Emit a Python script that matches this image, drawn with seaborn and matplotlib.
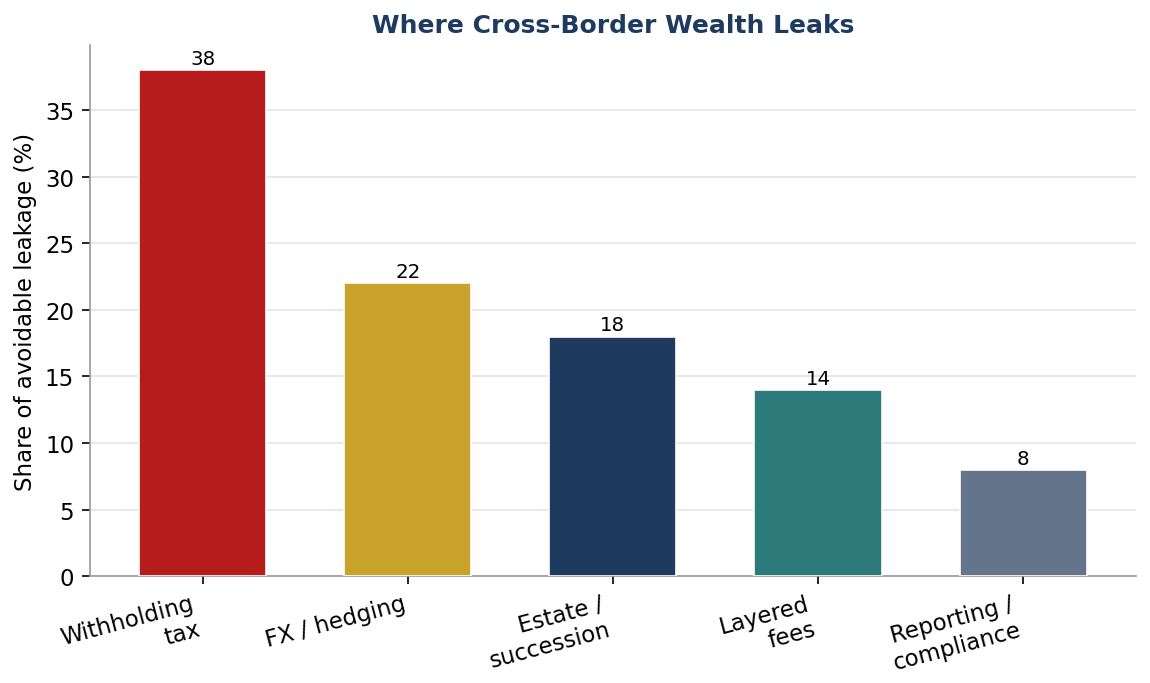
import matplotlib
matplotlib.use("Agg")
import matplotlib.pyplot as plt
import pandas as pd
import seaborn as sns

categories = ["Withholding\ntax", "FX / hedging", "Estate /\nsuccession", "Layered\nfees", "Reporting /\ncompliance"]
shares = [38, 22, 18, 14, 8]
colors = ["#B71C1C", "#C9A22A", "#1F3A5F", "#2D7A7B", "#64748B"]

df = pd.DataFrame({"category": categories, "share": shares})

sns.set_style("white")
plt.rcParams["font.family"] = ["DejaVu Sans"]
plt.rcParams["text.color"] = "black"
plt.rcParams["axes.labelcolor"] = "black"
plt.rcParams["xtick.color"] = "black"
plt.rcParams["ytick.color"] = "black"

fig, ax = plt.subplots(figsize=(7.673, 4.56), dpi=150)
sns.barplot(data=df, x="category", y="share", hue="category", palette=colors,
            saturation=1, width=0.62, edgecolor="white", linewidth=0.8,
            legend=False, ax=ax, zorder=3)

for c in ax.containers:
    ax.bar_label(c, fmt="%d", fontsize=9.5, padding=1)

ax.set_ylim(0, 38 * 1.05)
ax.set_xlim(-0.55, 4.55)
ax.yaxis.grid(True, color="#E5E7EB", linewidth=0.9, zorder=0)
ax.set_axisbelow(True)
ax.set_title("Where Cross-Border Wealth Leaks", fontsize=12, fontweight="bold", color="#1F3A5F")
ax.set_ylabel("Share of avoidable leakage (%)", fontsize=11)
ax.set_xlabel("")
plt.setp(ax.get_xticklabels(), rotation=15, ha="right", fontsize=11)
ax.tick_params(axis="y", labelsize=11, length=4, left=True)
ax.tick_params(axis="x", length=4, bottom=True)
for s in ["top", "right"]:
    ax.spines[s].set_visible(False)
for s in ["left", "bottom"]:
    ax.spines[s].set_color("#999999")

plt.subplots_adjust(left=0.078, right=0.987, top=0.933, bottom=0.156)
fig.savefig("out.png", dpi=150)
